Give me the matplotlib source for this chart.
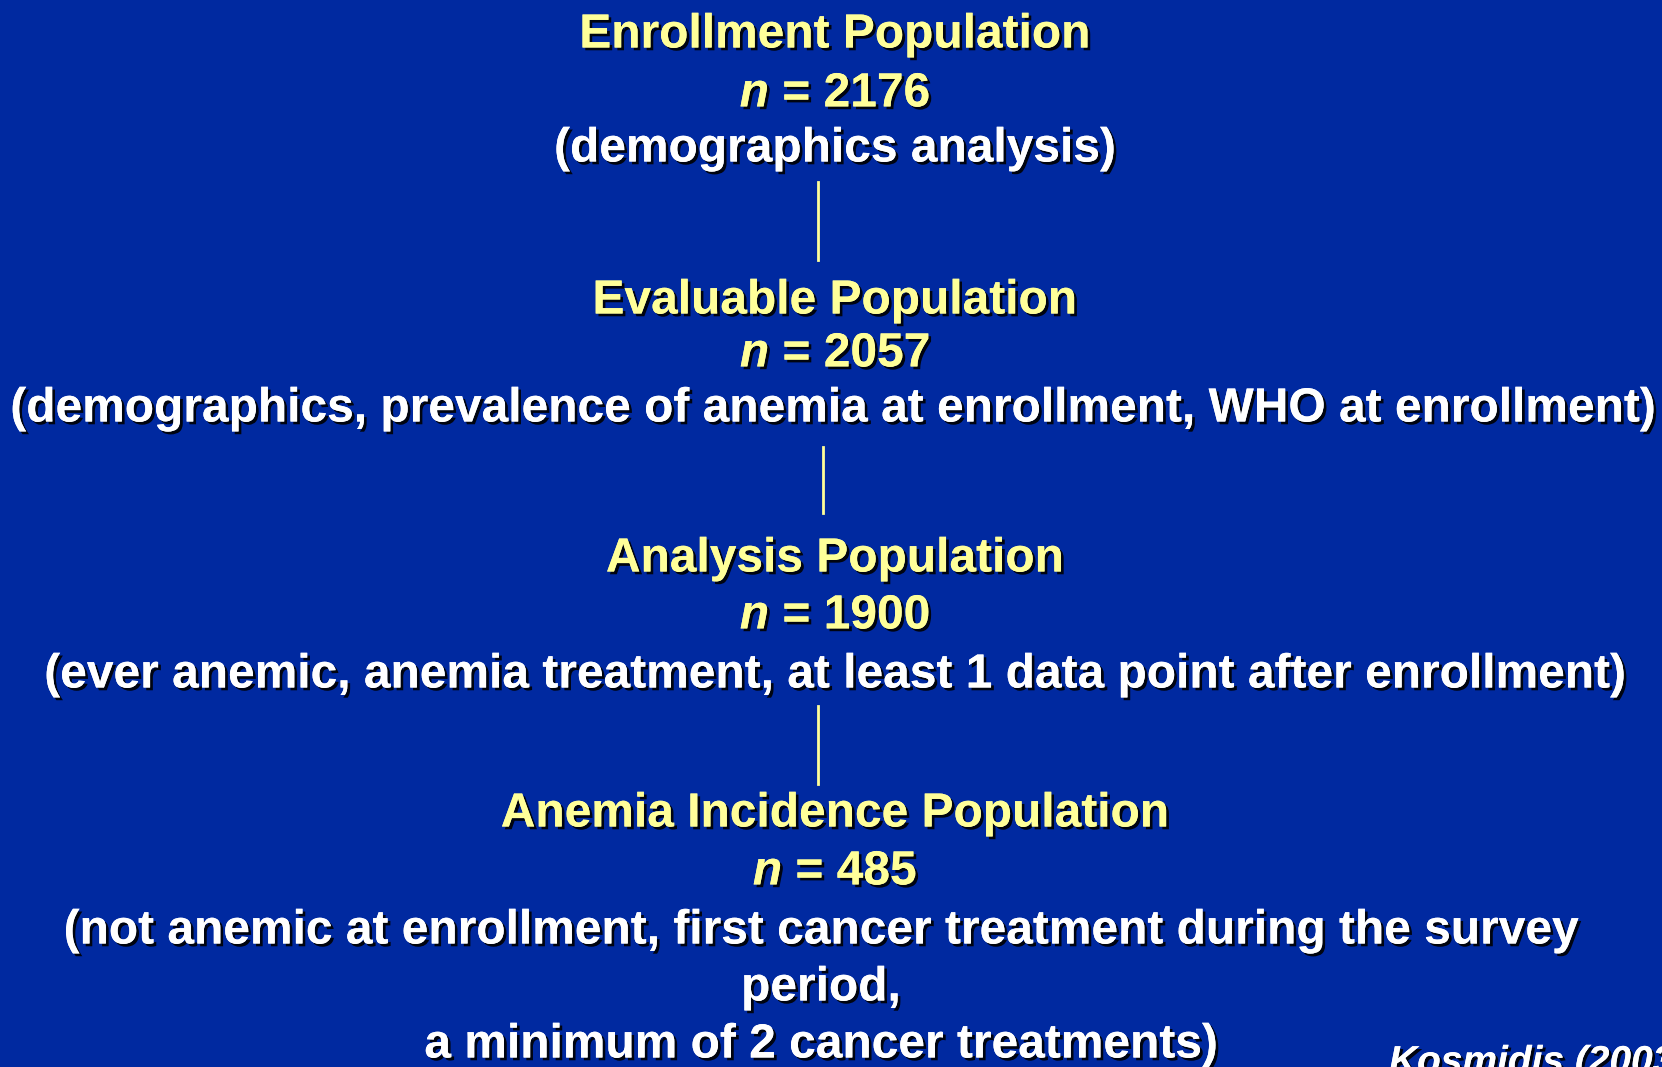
import matplotlib
matplotlib.use("Agg")
import matplotlib.pyplot as plt
import matplotlib.patheffects as pe

# study populations (top to bottom)
stages = ["Enrollment Population", "Evaluable Population",
          "Analysis Population", "Anemia Incidence Population"]
counts = [2176, 2057, 1900, 485]
notes = [
    "(demographics analysis)",
    "(demographics, prevalence of anemia at enrollment, WHO at enrollment)",
    "(ever anemic, anemia treatment, at least 1 data point after enrollment)",
    "(not anemic at enrollment, first cancer treatment during the survey\nperiod,\na minimum of 2 cancer treatments)",
]
source = "Kosmidis (2003)"

# layout (pixel rows of each block)
title_y = [35, 301, 559, 814]
n_y = [94, 354, 616, 872]
note_y = [149, 409, 675, 931]
note_x = [835, 833, 835, 821]
links = [(182, 260, 818), (447, 513, 823), (706, 784, 818)]

W, H = 1662, 1067
bg = "#0029a0"
yellow = "#ffff99"

plt.rcParams["font.family"] = "Liberation Sans"
plt.rcParams["font.weight"] = "bold"
plt.rcParams["mathtext.fontset"] = "custom"
plt.rcParams["mathtext.it"] = "Liberation Sans:bold:italic"
plt.rcParams["mathtext.rm"] = "Liberation Sans:bold"

fig = plt.figure(figsize=(W / 100, H / 100), dpi=100, facecolor=bg)
ax = fig.add_axes([0, 0, 1, 1])
ax.set_xlim(0, W)
ax.set_ylim(H, 0)
ax.axis("off")
ax.set_facecolor(bg)

shadow = [pe.withSimplePatchShadow(offset=(2, -2), shadow_rgbFace="black", alpha=0.9), pe.Normal()]
fs = 34.5

for i in range(len(stages)):
    ax.text(835, title_y[i], stages[i], color=yellow, fontsize=fs, ha="center", va="center",
            fontweight="bold", path_effects=shadow)
    ax.text(835, n_y[i], r"$n$ = %d" % counts[i], color=yellow, fontsize=fs,
            ha="center", va="center", fontweight="bold", path_effects=shadow)
    # each note line on its own row
    for j, line in enumerate(notes[i].split("\n")):
        ax.text(note_x[i], note_y[i] + j * 57, line, color="white", fontsize=fs, ha="center", va="center",
                fontweight="bold", path_effects=shadow)

for y0, y1, x in links:
    ax.plot([x, x], [y0, y1], color=yellow, lw=2)

# source note, partly off the slide as in the original
ax.text(1389, 1045, source, color="white", fontsize=28, ha="left", va="top",
        fontweight="bold", fontstyle="italic", path_effects=shadow)

fig.savefig("out.png", dpi=100, facecolor=bg)
